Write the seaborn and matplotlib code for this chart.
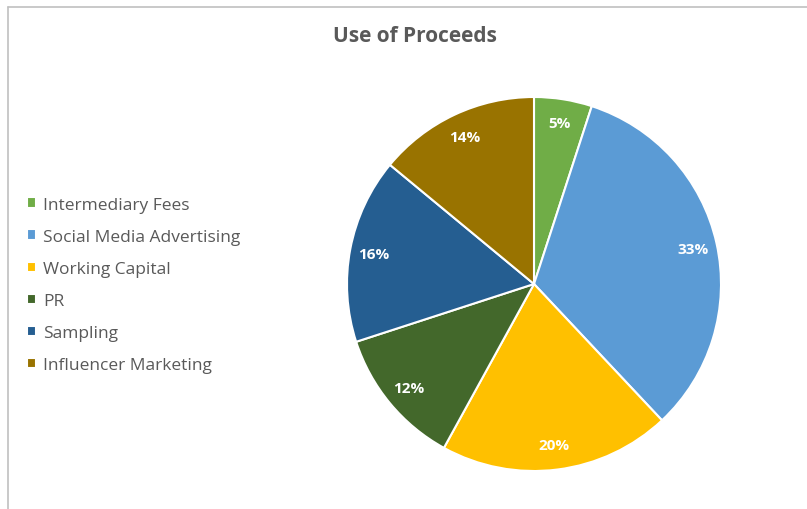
"""Use of Proceeds - pie chart."""

import matplotlib.pyplot as plt
import seaborn as sns
from matplotlib.lines import Line2D

categories = ["Intermediary Fees", "Social Media Advertising", "Working Capital",
              "PR", "Sampling", "Influencer Marketing"]
shares = [5, 33, 20, 12, 16, 14]
colors = ["#70AD47", "#5B9BD5", "#FFC000", "#43682B", "#255E91", "#997300"]

sns.set_theme(style="white")
plt.rcParams["font.family"] = ["Open Sans", "DejaVu Sans"]

fig = plt.figure(figsize=(8.07, 5.10), dpi=100)

# chart-area frame (grey border at top and left)
top = 1 - 7.5 / 510
left = 7.5 / 807
fig.add_artist(Line2D([left, 1], [top, top], transform=fig.transFigure,
                      color="#c0c0c0", linewidth=1.2))
fig.add_artist(Line2D([left, left], [0, top], transform=fig.transFigure,
                      color="#c0c0c0", linewidth=1.2))

ax = fig.add_axes([(534 - 187) / 807, (510 - 285 - 187) / 510, 374 / 807, 374 / 510])
palette = sns.color_palette(colors)
wedges, texts, autotexts = ax.pie(
    shares, colors=palette, startangle=90, counterclock=False,
    autopct="%d%%", pctdistance=0.87,
    wedgeprops=dict(edgecolor="white", linewidth=1.5),
)
for t in autotexts:
    t.set_color("white")
    t.set_fontweight("bold")
    t.set_fontsize(11)
ax.set_xlim(-1, 1)
ax.set_ylim(-1, 1)
ax.set_aspect("equal")
ax.axis("off")

fig.text(415 / 807, 1 - 36 / 510, "Use of Proceeds", ha="center", va="center",
         fontsize=15, fontweight="bold", color="#595959")

fig.legend(wedges, categories, loc="upper left",
           bbox_to_anchor=(11 / 807, 1 - 182 / 510), frameon=False,
           fontsize=12.5, handlelength=0.55, handleheight=0.55, handletextpad=0.4,
           labelspacing=0.93, labelcolor="#595959")

fig.savefig("out.png", dpi=100)
